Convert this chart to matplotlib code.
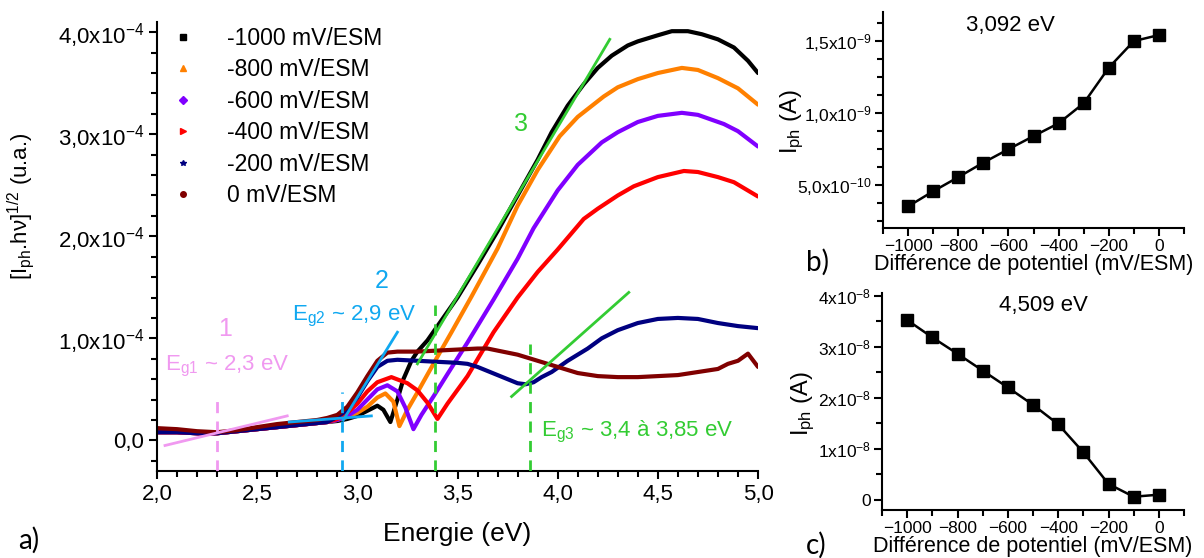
import matplotlib
matplotlib.use('Agg')
import matplotlib.pyplot as plt
from matplotlib.lines import Line2D
from matplotlib.ticker import MultipleLocator, FixedLocator, FuncFormatter

plt.rcParams['font.family'] = ['Liberation Sans', 'DejaVu Sans']
plt.rcParams['mathtext.fontset'] = 'custom'
plt.rcParams['mathtext.rm'] = 'Liberation Sans'
plt.rcParams['mathtext.it'] = 'Liberation Sans:italic'
plt.rcParams['mathtext.bf'] = 'Liberation Sans:bold'

# ---- main spectra, [Iph.hv]^1/2 in units of 1e-4 ----
e_low = [2.0, 2.1, 2.2, 2.3, 2.4, 2.5, 2.6, 2.7, 2.8, 2.85]
v_low = [0.08, 0.08, 0.07, 0.07, 0.09, 0.11, 0.13, 0.15, 0.17, 0.18]
v_low_0 = [0.12, 0.11, 0.09, 0.08, 0.10, 0.13, 0.16, 0.18, 0.20, 0.22]

e_m1000 = e_low + [2.9, 2.95, 3.0, 3.05, 3.1, 3.13, 3.165, 3.2, 3.23, 3.27, 3.3, 3.35, 3.4,
                   3.5, 3.6, 3.7, 3.8, 3.9, 3.97, 4.05, 4.13, 4.2, 4.27, 4.35, 4.4, 4.5, 4.57,
                   4.65, 4.72, 4.8, 4.88, 4.95, 5.0]
v_m1000 = v_low + [0.19, 0.21, 0.24, 0.29, 0.34, 0.30, 0.18, 0.40, 0.60, 0.78, 0.87, 0.98, 1.12,
                   1.40, 1.72, 2.05, 2.40, 2.75, 3.02, 3.28, 3.49, 3.65, 3.77, 3.87, 3.91, 3.97, 4.01,
                   4.01, 3.98, 3.93, 3.85, 3.72, 3.60]

e_m800 = e_low + [2.9, 2.95, 3.0, 3.05, 3.1, 3.14, 3.18, 3.21, 3.25, 3.3, 3.4, 3.47, 3.57, 3.7,
                  3.8, 3.9, 4.01, 4.1, 4.23, 4.3, 4.4, 4.5, 4.62, 4.7, 4.8, 4.9, 5.0]
v_m800 = v_low + [0.20, 0.23, 0.27, 0.33, 0.42, 0.46, 0.38, 0.14, 0.30, 0.47, 0.82, 1.06, 1.41, 1.88,
                  2.30, 2.65, 2.98, 3.17, 3.37, 3.46, 3.54, 3.60, 3.65, 3.63, 3.55, 3.45, 3.29]

e_m600 = e_low + [2.9, 2.95, 3.0, 3.05, 3.1, 3.15, 3.2, 3.24, 3.28, 3.32, 3.38, 3.45, 3.55, 3.68,
                  3.8, 3.88, 4.0, 4.1, 4.22, 4.3, 4.4, 4.5, 4.62, 4.7, 4.83, 4.9, 5.0]
v_m600 = v_low + [0.20, 0.24, 0.30, 0.40, 0.50, 0.54, 0.48, 0.32, 0.11, 0.25, 0.43, 0.65, 0.96, 1.38,
                  1.78, 2.08, 2.45, 2.70, 2.92, 3.02, 3.12, 3.18, 3.21, 3.19, 3.10, 3.03, 2.88]

e_m400 = e_low + [2.9, 2.95, 3.0, 3.05, 3.1, 3.17, 3.25, 3.3, 3.35, 3.4, 3.45, 3.55, 3.68, 3.8,
                  3.9, 4.0, 4.13, 4.2, 4.3, 4.38, 4.5, 4.63, 4.7, 4.8, 4.88, 5.0]
v_m400 = v_low + [0.21, 0.27, 0.36, 0.48, 0.57, 0.62, 0.56, 0.49, 0.37, 0.21, 0.36, 0.63, 1.06, 1.40,
                  1.65, 1.87, 2.17, 2.27, 2.40, 2.49, 2.58, 2.64, 2.63, 2.58, 2.53, 2.39]

e_m200 = e_low + [2.9, 2.95, 3.0, 3.05, 3.1, 3.15, 3.2, 3.3, 3.4, 3.5, 3.55, 3.6, 3.65, 3.7, 3.75,
                  3.8, 3.84, 3.88, 3.92, 3.97, 4.05, 4.15, 4.22, 4.3, 4.4, 4.5, 4.6, 4.7, 4.8, 4.9, 5.0]
v_m200 = v_low + [0.23, 0.30, 0.42, 0.58, 0.72, 0.78, 0.79, 0.78, 0.77, 0.76, 0.75, 0.72, 0.68, 0.64, 0.60,
                  0.56, 0.55, 0.57, 0.62, 0.67, 0.78, 0.90, 1.00, 1.08, 1.15, 1.19, 1.20, 1.19, 1.15, 1.12, 1.10]

e_0 = e_low + [2.9, 2.95, 3.0, 3.05, 3.1, 3.15, 3.2, 3.3, 3.4, 3.5, 3.6, 3.65, 3.7, 3.8, 3.9, 4.0,
               4.1, 4.2, 4.3, 4.4, 4.5, 4.6, 4.7, 4.8, 4.85, 4.9, 4.95, 5.0]
v_0 = v_low_0 + [0.25, 0.33, 0.47, 0.63, 0.78, 0.86, 0.87, 0.87, 0.88, 0.89, 0.90, 0.90, 0.88, 0.84, 0.78, 0.72,
                 0.66, 0.63, 0.62, 0.62, 0.63, 0.64, 0.67, 0.70, 0.75, 0.78, 0.85, 0.72]

series_labels = ['-1000 mV/ESM', '-800 mV/ESM', '-600 mV/ESM', '-400 mV/ESM', '-200 mV/ESM', '0 mV/ESM']
series_colors = ['#000000', '#ff8000', '#8000ff', '#ff0000', '#000080', '#800000']
series_markers = ['s', '^', 'D', '>', '*', 'o']

# ---- tangent constructions (E, value 1e-4) ----
tangent1 = ([2.04, 2.65], [-0.05, 0.24])
tangent2 = ([2.93, 3.20], [0.20, 1.06])
base2 = ([2.66, 3.07], [0.18, 0.24])
tangent3 = ([3.30, 4.26], [0.75, 3.93])
tangent3b = ([3.77, 4.355], [0.43, 1.45])
gaps = [(2.30, 0.45, '#f099f0'), (2.925, 0.47, '#10a8f0'), (3.39, 1.33, '#33cc33'), (3.86, 0.94, '#33cc33')]

# ---- side panels ----
potential = [-1000, -900, -800, -700, -600, -500, -400, -300, -200, -100, 0]
iph_3092 = [3.5e-10, 4.55e-10, 5.53e-10, 6.54e-10, 7.47e-10, 8.38e-10, 9.27e-10, 1.066e-9, 1.313e-9, 1.498e-9, 1.54e-9]
iph_4509 = [3.52e-8, 3.18e-8, 2.86e-8, 2.53e-8, 2.20e-8, 1.86e-8, 1.48e-8, 0.93e-8, 0.31e-8, 0.06e-8, 0.10e-8]

fig = plt.figure(figsize=(12.04, 5.58), dpi=100)
ax = fig.add_axes([157 / 1204, 1 - 471 / 558, 601 / 1204, 449 / 558])

energies = [e_m1000, e_m800, e_m600, e_m400, e_m200, e_0]
values = [v_m1000, v_m800, v_m600, v_m400, v_m200, v_0]
for e, v, c in zip(energies, values, series_colors):
    ax.plot(e, [x * 1e-4 for x in v], color=c, lw=3, solid_capstyle='round', zorder=2)

pink, blue, green = '#f099f0', '#10a8f0', '#33cc33'
ax.plot(tangent1[0], [x * 1e-4 for x in tangent1[1]], color=pink, lw=2, zorder=3)
ax.plot(tangent2[0], [x * 1e-4 for x in tangent2[1]], color=blue, lw=2, zorder=3)
ax.plot(base2[0], [x * 1e-4 for x in base2[1]], color=blue, lw=2, zorder=3)
ax.plot(tangent3[0], [x * 1e-4 for x in tangent3[1]], color=green, lw=2, zorder=3)
ax.plot(tangent3b[0], [x * 1e-4 for x in tangent3b[1]], color=green, lw=2, zorder=3)
for xg, top, c in gaps:
    ax.plot([xg, xg], [-0.3e-4, top * 1e-4], color=c, lw=2, ls=(0, (4, 3)), zorder=3)

ax.text(2.34, 1.09e-4, '1', color=pink, fontsize=18, ha='center', va='center')
ax.text(2.04, 0.72e-4, r'E$_{\mathrm{g1}}$ ~ 2,3 eV', color=pink, fontsize=16, ha='left', va='center')
ax.text(3.12, 1.56e-4, '2', color=blue, fontsize=18, ha='center', va='center')
ax.text(2.675, 1.21e-4, r'E$_{\mathrm{g2}}$ ~ 2,9 eV', color=blue, fontsize=16, ha='left', va='center')
ax.text(3.815, 3.1e-4, '3', color=green, fontsize=18, ha='center', va='center')
ax.text(3.915, 0.08e-4, r'E$_{\mathrm{g3}}$ ~ 3,4 à 3,85 eV', color=green, fontsize=16, ha='left', va='center')

ax.set_xlim(2.0, 5.0)
ax.set_ylim(-0.3e-4, 4.1e-4)
ax.xaxis.set_major_locator(MultipleLocator(0.5))
ax.xaxis.set_minor_locator(MultipleLocator(0.1))
ax.yaxis.set_major_locator(MultipleLocator(1e-4))
ax.yaxis.set_minor_locator(MultipleLocator(0.2e-4))
ax.xaxis.set_major_formatter(FuncFormatter(lambda x, p: ('%.1f' % x).replace('.', ',')))


def main_y(y, p):
    if abs(y) < 1e-12:
        return '0,0'
    return ('%.1f' % (y / 1e-4)).replace('.', ',') + r'x10$^{-4}$'


ax.yaxis.set_major_formatter(FuncFormatter(main_y))
for s in ['top', 'right']:
    ax.spines[s].set_visible(False)
for s in ['left', 'bottom']:
    ax.spines[s].set_linewidth(1.5)
ax.tick_params(which='major', direction='out', length=6, width=1.5, labelsize=16)
ax.tick_params(which='minor', direction='out', length=4, width=1.5)
ax.set_xlabel('Energie (eV)', fontsize=19, labelpad=12)
ax.set_ylabel('[I$_{\\mathrm{ph}}$.hν]$^{1/2}$ (u.a.)', fontsize=16)
ax.yaxis.set_label_coords(-0.20, 0.59)

handles = [Line2D([], [], ls='none', marker=m, color=c, markersize=4)
           for m, c in zip(series_markers, series_colors)]
ax.legend(handles, series_labels, loc='upper left', bbox_to_anchor=(172 / 1204, 1 - 27 / 558),
          bbox_transform=fig.transFigure, frameon=False, fontsize=16.5, handlelength=1.0,
          handletextpad=1.4, labelspacing=0.37, borderpad=0, borderaxespad=0)

fig.text(18 / 1204, 1 - 540 / 558, 'a)', fontsize=20, family='Lato', va='center', ha='left')


def side_axes(rect, x, y, title, title_xy, ylim, yticks, ylabels, ylab_x, letter, letter_y):
    a = fig.add_axes(rect)
    a.plot(x, y, color='black', lw=1.8, marker='s', markersize=9, zorder=3)
    a.set_xlim(-1100, 100)
    a.set_ylim(*ylim)
    a.xaxis.set_major_locator(MultipleLocator(200))
    a.xaxis.set_minor_locator(MultipleLocator(100))
    a.yaxis.set_major_locator(FixedLocator(yticks))
    a.set_yticklabels(ylabels)
    for s in ['top', 'right']:
        a.spines[s].set_visible(False)
    for s in ['left', 'bottom']:
        a.spines[s].set_linewidth(1.5)
    a.tick_params(which='major', direction='out', length=6, width=1.5, labelsize=12.5, pad=2)
    a.tick_params(which='minor', direction='out', length=4, width=1.5)
    a.set_xlabel('Différence de potentiel (mV/ESM)', fontsize=15.5, labelpad=0)
    a.set_ylabel('I$_{\\mathrm{ph}}$ (A)', fontsize=17)
    a.yaxis.set_label_coords(ylab_x, 0.49)
    a.text(title_xy[0], title_xy[1], title, transform=a.transAxes, fontsize=16, ha='center', va='center')
    fig.text(806 / 1204, 1 - letter_y / 558, letter, fontsize=20, family='Lato', va='center', ha='left')
    return a


axb = side_axes([883 / 1204, 1 - 228 / 558, 301 / 1204, 216 / 558], potential, iph_3092, '3,092 eV',
                ((1010 - 883) / 301, (228 - 25) / 216), (2e-10, 1.7e-9),
                [5e-10, 1e-9, 1.5e-9], ['5,0x10$^{-10}$', '1,0x10$^{-9}$', '1,5x10$^{-9}$'], -0.256, 'b)', 262)
axb.yaxis.set_minor_locator(MultipleLocator(1.25e-10))

axc = side_axes([882 / 1204, 1 - 510 / 558, 302 / 1204, 217 / 558], potential, iph_4509, '4,509 eV',
                ((1043 - 882) / 302, (510 - 305) / 217), (-0.2e-8, 4.05e-8),
                [0, 1e-8, 2e-8, 3e-8, 4e-8], ['0', '1x10$^{-8}$', '2x10$^{-8}$', '3x10$^{-8}$', '4x10$^{-8}$'],
                -0.215, 'c)', 545)
axc.yaxis.set_minor_locator(MultipleLocator(0.5e-8))

fig.savefig('out.png', dpi=100)
